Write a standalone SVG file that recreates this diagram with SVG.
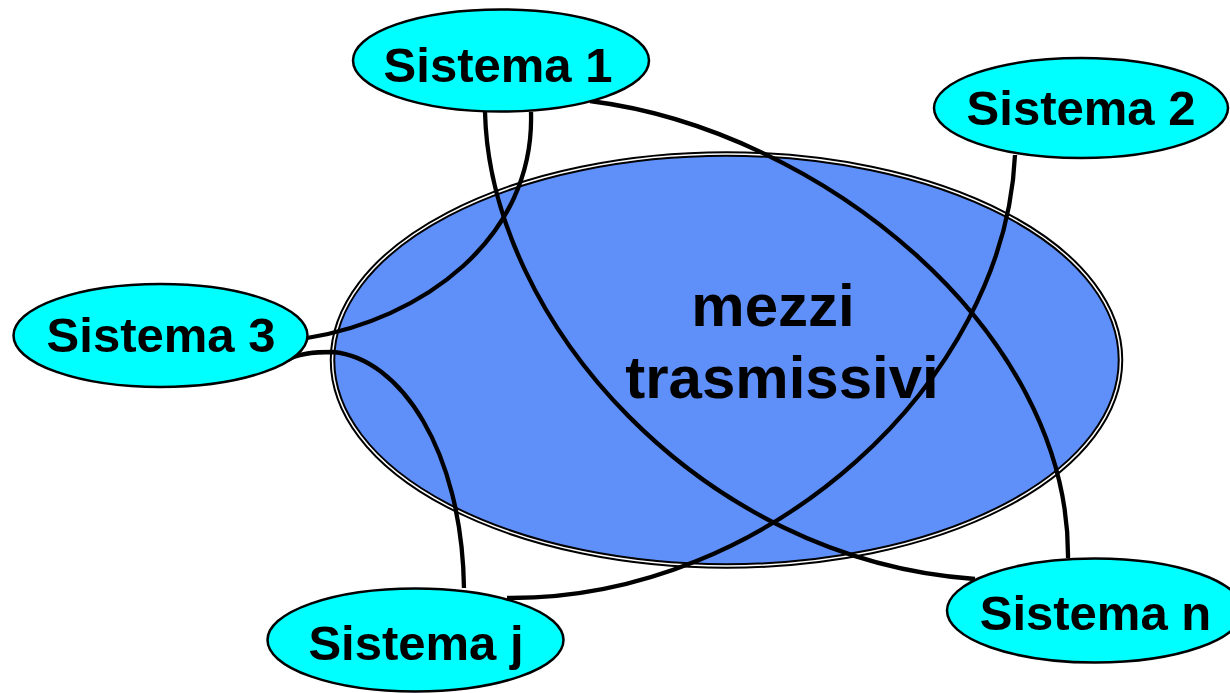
<svg xmlns="http://www.w3.org/2000/svg" width="1230" height="693" viewBox="0 0 1230 693">
  <style>
    .sys ellipse { fill: #00FFFF; stroke: #000; stroke-width: 2.5; }
    .sys text { font-family: "Liberation Sans", Arial, sans-serif; font-weight: bold; font-size: 49px; fill: #000; text-anchor: middle; }
    .medium text { font-family: "Liberation Sans", Arial, sans-serif; font-weight: bold; font-size: 60px; fill: #000; text-anchor: middle; }
    .link { fill: none; stroke: #000; stroke-width: 4.3; stroke-linecap: butt; }
  </style>

  <!-- shared transmission medium: filled ellipse with a double outline -->
  <g id="mezzi-trasmissivi" class="medium">
    <ellipse cx="726.5" cy="360" rx="394" ry="206" fill="#5F8FF9" stroke="#000" stroke-width="5.5"/>
    <ellipse cx="726.5" cy="360" rx="394" ry="206" fill="none" stroke="#FFFFFF" stroke-width="1.5"/>
    <text x="773" y="326">mezzi</text>
    <text x="782" y="398">trasmissivi</text>
  </g>

  <!-- cables between the systems -->
  <g id="connectors">
    <path class="link" d="M307,338 C420,320 535,240 531,112"/>
    <path class="link" d="M288,360 C298,353 315,352 333,352 C400,358 462,450 464,588"/>
    <path class="link" d="M485,112 C490,320 700,560 975,579"/>
    <path class="link" d="M590,101 C820,130 1070,330 1068,558"/>
    <path class="link" d="M1015,155 C1005,380 770,600 507,598"/>
  </g>

  <g id="sistema-1" class="sys">
    <ellipse cx="501" cy="60.5" rx="148" ry="51"/>
    <text x="498" y="82">Sistema 1</text>
  </g>

  <g id="sistema-2" class="sys">
    <ellipse cx="1081" cy="108" rx="147" ry="50"/>
    <text x="1081" y="125">Sistema 2</text>
  </g>

  <g id="sistema-3" class="sys">
    <ellipse cx="160.5" cy="335.5" rx="147" ry="51.5"/>
    <text x="161" y="352">Sistema 3</text>
  </g>

  <g id="sistema-j" class="sys">
    <ellipse cx="415.5" cy="640" rx="148" ry="51.5"/>
    <text x="416" y="660">Sistema j</text>
  </g>

  <g id="sistema-n" class="sys">
    <ellipse cx="1095" cy="610.5" rx="148" ry="52"/>
    <text x="1095.5" y="630">Sistema n</text>
  </g>
</svg>
